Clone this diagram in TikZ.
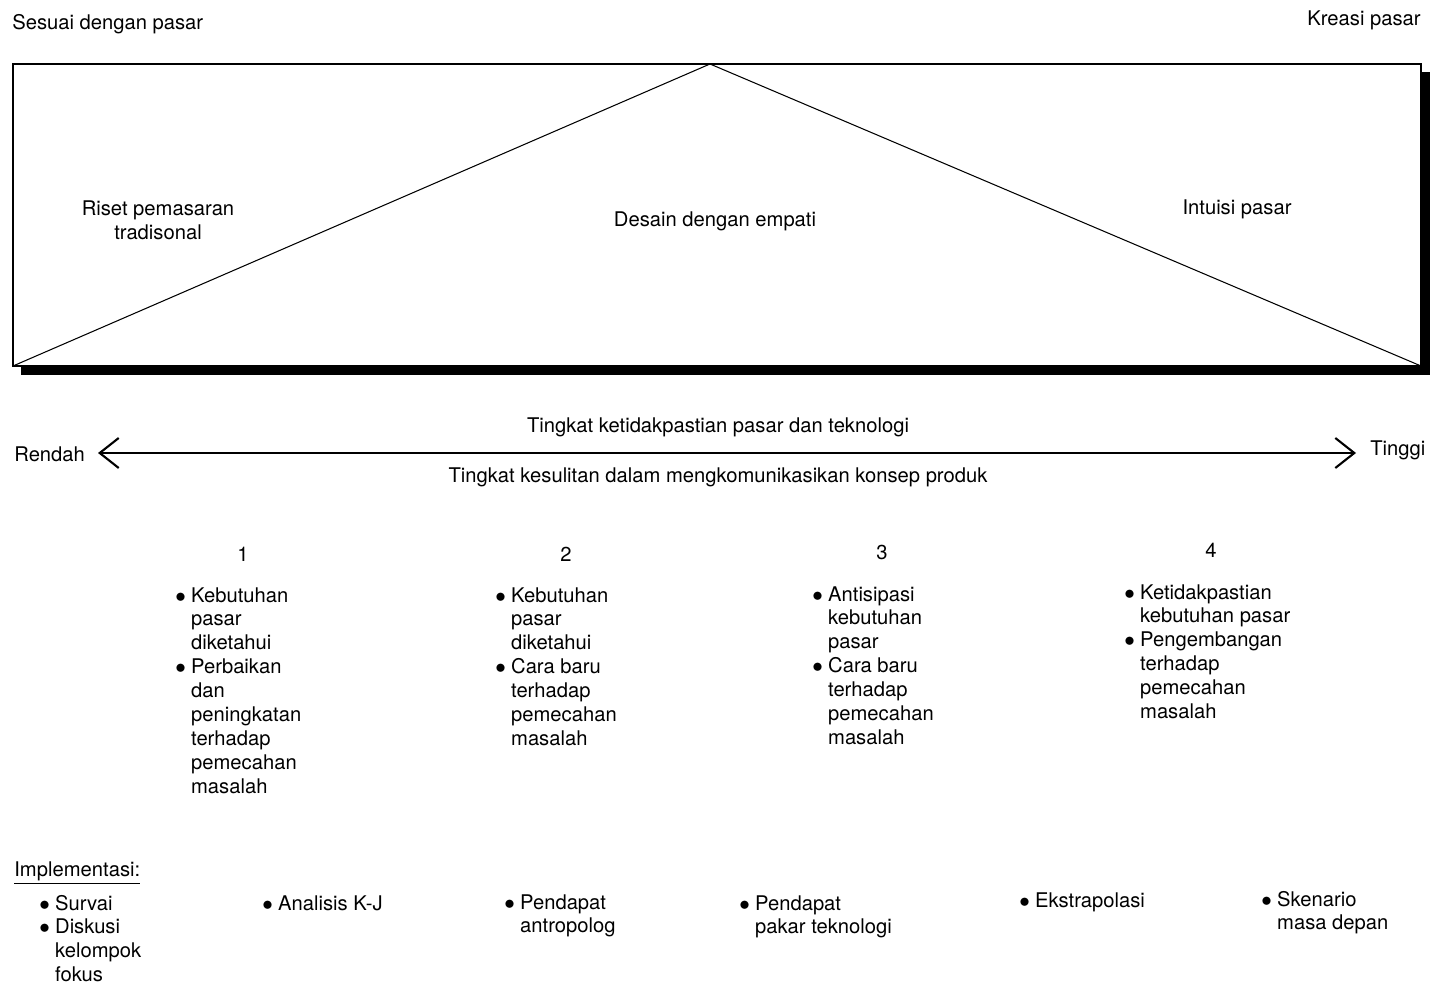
\documentclass[tikz,border=0pt]{standalone}
\usepackage{fontspec}
\setmainfont{TeX Gyre Heros}
\usetikzlibrary{arrows.meta}

\newcommand{\bpoints}[1]{\begin{tabular}[t]{@{}l@{\hspace{3pt}}l@{}}#1\end{tabular}}
\newcommand{\dotb}{\makebox[6pt][l]{$\bullet$}}

\begin{document}
\begin{tikzpicture}[x=0.02cm, y=-0.02cm,
    every node/.style={inner sep=0pt, font=\fontsize{11.5}{13.6}\selectfont},
    lbl/.style={anchor=base},
    lst/.style={anchor=base west, align=left},
    >={Straight Barb[length=0.38cm, width=0.6cm, line width=1.2pt]}]
  \useasboundingbox (0,0) rectangle (1435,982);

  % kotak dengan bayangan
  \coordinate (tl) at (13,64);
  \coordinate (apex) at (710,64);
  \coordinate (bl) at (13,366);
  \coordinate (br) at (1421,366);
  \fill (21,366) rectangle (1430,375);
  \fill (1421,72) rectangle (1430,375);
  \draw[line width=0.8pt] (tl) rectangle (br);
  \draw[line width=0.6pt] (bl) -- (apex) -- (br);

  \node[lst] (sesuai) at (12,30) {Sesuai dengan pasar};
  \node[anchor=base east] (kreasi) at (1421,26) {Kreasi pasar};

  \node[align=center] (riset) at (158,220) {Riset pemasaran\\tradisonal};
  \node[lbl] (empati) at (715,227) {Desain dengan empati};
  \node[lbl] (intuisi) at (1237,215) {Intuisi pasar};

  % sumbu
  \coordinate (lo) at (98,453);
  \coordinate (hi) at (1356,453);
  \draw[<->, line width=0.6pt] (lo) -- (hi);
  \node[lst] (rendah) at (14,461) {Rendah};
  \node[lst] (tinggi) at (1370,456) {Tinggi};
  \node[lbl] (ketidak) at (718,433) {Tingkat ketidakpastian pasar dan teknologi};
  \node[lbl] (kesulitan) at (718,482) {Tingkat kesulitan dalam mengkomunikasikan konsep produk};

  % tahap 1-4
  \node[lbl] (n1) at (243,561) {1};
  \node[lbl] (n2) at (566,561) {2};
  \node[lbl] (n3) at (882,559) {3};
  \node[lbl] (n4) at (1211,557) {4};

  \node[lst] (c1) at (175,602) {\bpoints{\dotb & Kebutuhan\\ & pasar\\ & diketahui\\
    \dotb & Perbaikan\\ & dan\\ & peningkatan\\ & terhadap\\ & pemecahan\\ & masalah}};
  \node[lst] (c2) at (495,602) {\bpoints{\dotb & Kebutuhan\\ & pasar\\ & diketahui\\
    \dotb & Cara baru\\ & terhadap\\ & pemecahan\\ & masalah}};
  \node[lst] (c3) at (812,601) {\bpoints{\dotb & Antisipasi\\ & kebutuhan\\ & pasar\\
    \dotb & Cara baru\\ & terhadap\\ & pemecahan\\ & masalah}};
  \node[lst] (c4) at (1124,599) {\bpoints{\dotb & Ketidakpastian\\ & kebutuhan pasar\\
    \dotb & Pengembangan\\ & terhadap\\ & pemecahan\\ & masalah}};

  % implementasi
  \node[lst] (impl) at (14,876) {\underline{Implementasi:}};
  \node[lst] (i1) at (39,910) {\bpoints{\dotb & Survai\\ \dotb & Diskusi\\ & kelompok\\ & fokus}};
  \node[lst] (i2) at (262,910) {\bpoints{\dotb & Analisis K-J}};
  \node[lst] (i3) at (504,909) {\bpoints{\dotb & Pendapat\\ & antropolog}};
  \node[lst] (i4) at (739,910) {\bpoints{\dotb & Pendapat\\ & pakar teknologi}};
  \node[lst] (i5) at (1019,907) {\bpoints{\dotb & Ekstrapolasi}};
  \node[lst] (i6) at (1261,906) {\bpoints{\dotb & Skenario\\ & masa depan}};
\end{tikzpicture}
\end{document}
